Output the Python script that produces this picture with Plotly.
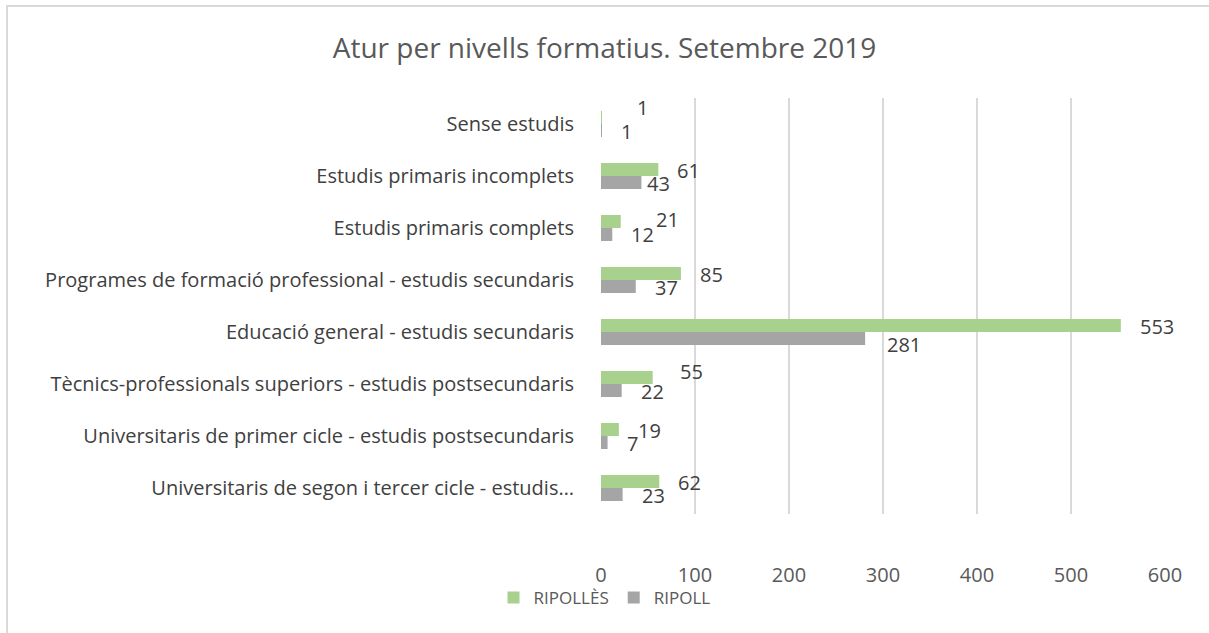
import plotly.graph_objects as go

categories = [
    "Sense estudis",
    "Estudis primaris incomplets",
    "Estudis primaris complets",
    "Programes de formació professional - estudis secundaris",
    "Educació general - estudis secundaris",
    "Tècnics-professionals superiors - estudis postsecundaris",
    "Universitaris de primer cicle - estudis postsecundaris",
    "Universitaris de segon i tercer cicle - estudis…",
]
ripolles = [1, 61, 21, 85, 553, 55, 19, 62]
ripoll = [1, 43, 12, 37, 281, 22, 7, 23]
x_ticks = [0, 100, 200, 300, 400, 500, 600]

GREEN = "#A9D18E"
GREY = "#A5A5A5"
TXT = "#404040"
FONT = "Open Sans"

W, H = 1209, 633
L, R, T, B = 601, 44, 98, 119

fig = go.Figure()
fig.add_trace(go.Bar(y=categories, x=ripolles, orientation="h", name="RIPOLLÈS",
                     marker=dict(color=GREEN, line=dict(width=0))))
fig.add_trace(go.Bar(y=categories, x=ripoll, orientation="h", name="RIPOLL",
                     marker=dict(color=GREY, line=dict(width=0))))

# label nudges (style only), in pixels
green_dx = {0: 33, 2: 33, 5: 25}
green_dy = {0: 10, 2: 2, 5: 6}
grey_dx = {1: 4, 4: 20}
grey_dy = {4: -6, 2: 0}

BAR_OFF = 6.5  # half bar height in px
anns = []
for i, (c, v) in enumerate(zip(categories, ripolles)):
    anns.append(dict(x=v, y=c, xref="x", yref="y", text=str(v), showarrow=False,
                     xanchor="left", yanchor="middle",
                     xshift=green_dx.get(i, 17), yshift=BAR_OFF + green_dy.get(i, -1),
                     font=dict(family=FONT, size=20, color=TXT)))
for i, (c, v) in enumerate(zip(categories, ripoll)):
    anns.append(dict(x=v, y=c, xref="x", yref="y", text=str(v), showarrow=False,
                     xanchor="left", yanchor="middle",
                     xshift=grey_dx.get(i, 17), yshift=-BAR_OFF + grey_dy.get(i, -1),
                     font=dict(family=FONT, size=20, color=TXT)))

pw = W - L - R
ph = H - T - B
fig.update_layout(
    width=W, height=H,
    margin=dict(l=L, r=R, t=T, b=B, pad=0, autoexpand=False),
    paper_bgcolor="white", plot_bgcolor="white",
    barmode="group", bargap=0.5, bargroupgap=0,
    title=dict(text="Atur per nivells formatius. Setembre 2019",
               x=0.5, xref="container", xanchor="center",
               y=1 - 48 / H, yref="container", yanchor="middle",
               font=dict(family=FONT, size=28, color="#595959")),
    font=dict(family=FONT, color=TXT),
    xaxis=dict(range=[0, 600], tickvals=x_ticks, showgrid=True, gridcolor="#D9D9D9",
               gridwidth=1.5, zeroline=False, showline=False, ticks="",
               tickfont=dict(family=FONT, size=20, color="#595959"),
               ticklabelstandoff=47, automargin=False, fixedrange=True),
    yaxis=dict(autorange="reversed", showgrid=False, zeroline=False, showline=False,
               ticks="", tickfont=dict(family=FONT, size=20, color=TXT),
               ticklabelstandoff=26, automargin=False, fixedrange=True),
    legend=dict(orientation="h", x=0.5, xref="container", xanchor="center",
                y=1 - 598 / H, yref="container", yanchor="middle",
                bgcolor="rgba(0,0,0,0)",
                font=dict(family=FONT, size=17, color="#595959"),
                itemwidth=30, traceorder="normal"),
    annotations=anns,
    shapes=[dict(type="rect", xref="paper", yref="paper",
                 x0=(7 - L) / pw, x1=(1215 - L) / pw,
                 y0=(H - B - 640) / ph, y1=(H - B - 6) / ph,
                 line=dict(color="#D9D9D9", width=2), fillcolor="rgba(0,0,0,0)",
                 layer="below")],
)

fig.write_html("out.html", config={"displayModeBar": False},
               post_script="document.body.style.margin='0px';")
